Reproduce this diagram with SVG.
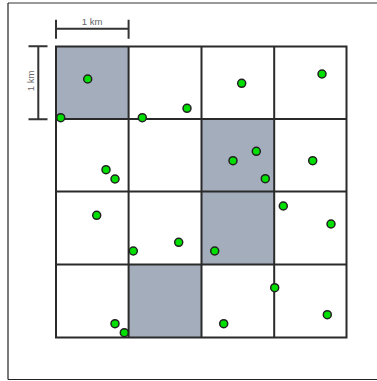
<svg xmlns="http://www.w3.org/2000/svg" width="377" height="381" viewBox="0 0 377 381">
<style>
.shade{fill:#a3adbb;stroke:none}
.grid{fill:none;stroke:#2a2a2a;stroke-width:2}
.bar{stroke:#333;stroke-width:2;fill:none}
.lbl{font-family:"Liberation Sans",Arial,sans-serif;font-size:9.5px;fill:#666}
.dot{fill:#00e000;stroke:#222;stroke-width:1.5}
</style>
<rect width="377" height="381" fill="#fff"/>
<g id="frame">
<line x1="8" y1="3" x2="377" y2="3" stroke="#777" stroke-width="1.5"/>
<line x1="8" y1="3" x2="8" y2="379.5" stroke="#222" stroke-width="1.2"/>
<line x1="8" y1="379.5" x2="377" y2="379.5" stroke="#222" stroke-width="1.2"/>
</g>
<g id="cells">
<rect class="shade" x="56" y="46.5" width="72.6" height="72.5"/>
<rect class="shade" x="201.5" y="119" width="72.6" height="145.5"/>
<rect class="shade" x="128.6" y="264.5" width="72.9" height="73"/>
</g>
<g id="grid" class="grid">
<rect x="56" y="46.5" width="290.5" height="291"/>
<line x1="128.6" y1="46.5" x2="128.6" y2="337.5"/>
<line x1="201.5" y1="46.5" x2="201.5" y2="337.5"/>
<line x1="274.2" y1="46.5" x2="274.2" y2="337.5"/>
<line x1="56" y1="119" x2="346.5" y2="119"/>
<line x1="56" y1="191.5" x2="346.5" y2="191.5"/>
<line x1="56" y1="264.5" x2="346.5" y2="264.5"/>
</g>
<g id="scale-h">
<path class="bar" d="M56 28.7H128.6M56 19.7V38.7M128.6 19.7V38.7"/>
<text class="lbl" x="92" y="25" text-anchor="middle">1 km</text>
</g>
<g id="scale-v">
<path class="bar" d="M38.3 46.3V119.3M28.5 46.3H47.5M28.5 119.3H47.5"/>
<text class="lbl" transform="translate(33.8 81) rotate(-90)" text-anchor="middle">1 km</text>
</g>
<g id="points">
<circle class="dot" cx="87.7" cy="79" r="4"/>
<circle class="dot" cx="60.7" cy="117.7" r="4"/>
<circle class="dot" cx="142.3" cy="117.7" r="4"/>
<circle class="dot" cx="187" cy="108.3" r="4"/>
<circle class="dot" cx="241.7" cy="83.3" r="4"/>
<circle class="dot" cx="322" cy="74" r="4"/>
<circle class="dot" cx="106" cy="169.7" r="4"/>
<circle class="dot" cx="115" cy="179" r="4"/>
<circle class="dot" cx="96.7" cy="215.3" r="4"/>
<circle class="dot" cx="133.3" cy="251" r="4"/>
<circle class="dot" cx="178.7" cy="242.3" r="4"/>
<circle class="dot" cx="233" cy="160.7" r="4"/>
<circle class="dot" cx="256.3" cy="151.3" r="4"/>
<circle class="dot" cx="265.3" cy="178.7" r="4"/>
<circle class="dot" cx="312.7" cy="160.7" r="4"/>
<circle class="dot" cx="283.3" cy="206" r="4"/>
<circle class="dot" cx="331" cy="224" r="4"/>
<circle class="dot" cx="214.7" cy="251" r="4"/>
<circle class="dot" cx="115" cy="323.7" r="4"/>
<circle class="dot" cx="124.3" cy="332.7" r="4"/>
<circle class="dot" cx="274.7" cy="287.7" r="4"/>
<circle class="dot" cx="223.7" cy="323.7" r="4"/>
<circle class="dot" cx="327.3" cy="314.7" r="4"/>
</g>
</svg>
